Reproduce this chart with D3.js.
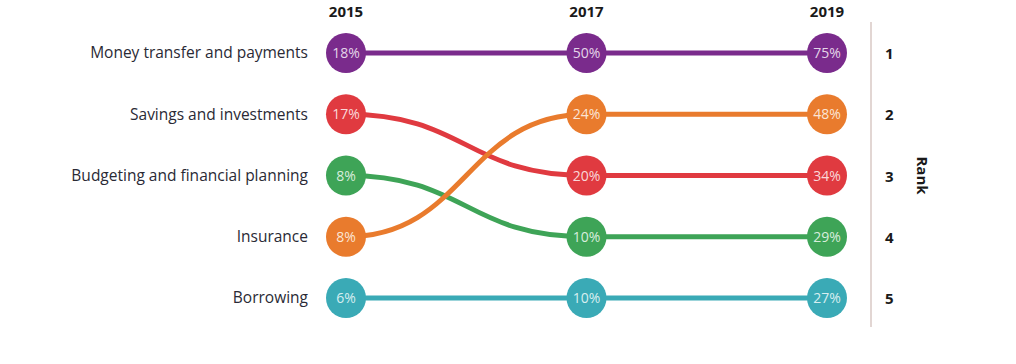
<!DOCTYPE html>
<html>
<head>
<meta charset="utf-8">
<script src="https://cdn.jsdelivr.net/npm/d3@7"></script>
<style>
  body { margin: 0; background: #fff; }
  text { font-family: "Open Sans", sans-serif; }
</style>
</head>
<body>
<svg id="chart" width="1016" height="364"></svg>
<script>
// data
const years = ["2015", "2017", "2019"];
const categories = ["Money transfer and payments", "Savings and investments",
  "Budgeting and financial planning", "Insurance", "Borrowing"];
const colors = ["#7a2b8c", "#e03a40", "#3ea457", "#e97b2d", "#3aaab6"];
const ranks = [[1, 1, 1], [2, 3, 3], [3, 4, 4], [4, 2, 2], [5, 5, 5]];
const values = [[18, 50, 75], [17, 20, 34], [8, 10, 29], [8, 24, 48], [6, 10, 27]];
const rankLabels = [1, 2, 3, 4, 5];

const svg = d3.select("#chart");

const x = d3.scalePoint().domain(years).range([346, 827]);
const y = d3.scalePoint().domain(rankLabels).range([53, 298]);

// year headers
svg.append("g").selectAll("text")
  .data(years)
  .join("text")
  .attr("x", d => x(d))
  .attr("y", 17)
  .attr("text-anchor", "middle")
  .style("font-weight", "bold")
  .style("font-size", "15px")
  .attr("fill", "#1a1a1a")
  .text(d => d);

// category labels (by 2015 rank)
svg.append("g").selectAll("text")
  .data(categories)
  .join("text")
  .attr("x", 308)
  .attr("y", (d, i) => y(ranks[i][0]))
  .attr("dy", "0.35em")
  .attr("text-anchor", "end")
  .style("font-size", "15.5px")
  .attr("fill", "#2a2a35")
  .text(d => d);

// connecting lines
const line = d3.line()
  .x(d => x(d.year))
  .y(d => y(d.rank))
  .curve(d3.curveBumpX);

svg.append("g").selectAll("path")
  .data(categories)
  .join("path")
  .attr("d", (d, i) => line(years.map((yr, j) => ({ year: yr, rank: ranks[i][j] }))))
  .attr("fill", "none")
  .attr("stroke", (d, i) => colors[i])
  .attr("stroke-width", 5);

// dots
const pts = [];
categories.forEach((c, i) => years.forEach((yr, j) => {
  pts.push({ year: yr, rank: ranks[i][j], value: values[i][j], color: colors[i] });
}));

const dots = svg.append("g").selectAll("g")
  .data(pts)
  .join("g")
  .attr("transform", d => "translate(" + x(d.year) + "," + y(d.rank) + ")");

dots.append("circle")
  .attr("r", 20)
  .attr("fill", d => d.color);

dots.append("text")
  .attr("text-anchor", "middle")
  .attr("dy", "0.36em")
  .style("font-size", "14px")
  .attr("fill", d => d3.interpolateRgb(d.color, "#fff")(0.8))
  .text(d => d.value + "%");

// rank axis
svg.append("line")
  .attr("x1", 871).attr("x2", 871)
  .attr("y1", 22).attr("y2", 327)
  .attr("stroke", "#d8c8c4")
  .attr("stroke-width", 1.5);

svg.append("g").selectAll("text")
  .data(rankLabels)
  .join("text")
  .attr("x", 885)
  .attr("y", d => y(d))
  .attr("dy", "0.4em")
  .style("font-weight", "bold")
  .style("font-size", "15px")
  .attr("fill", "#1a1a1a")
  .text(d => d);

svg.append("text")
  .attr("transform", "translate(917," + y(3) + ") rotate(90)")
  .attr("text-anchor", "middle")
  .style("font-weight", "bold")
  .style("font-size", "15px")
  .attr("fill", "#1a1a1a")
  .text("Rank");
</script>
</body>
</html>
